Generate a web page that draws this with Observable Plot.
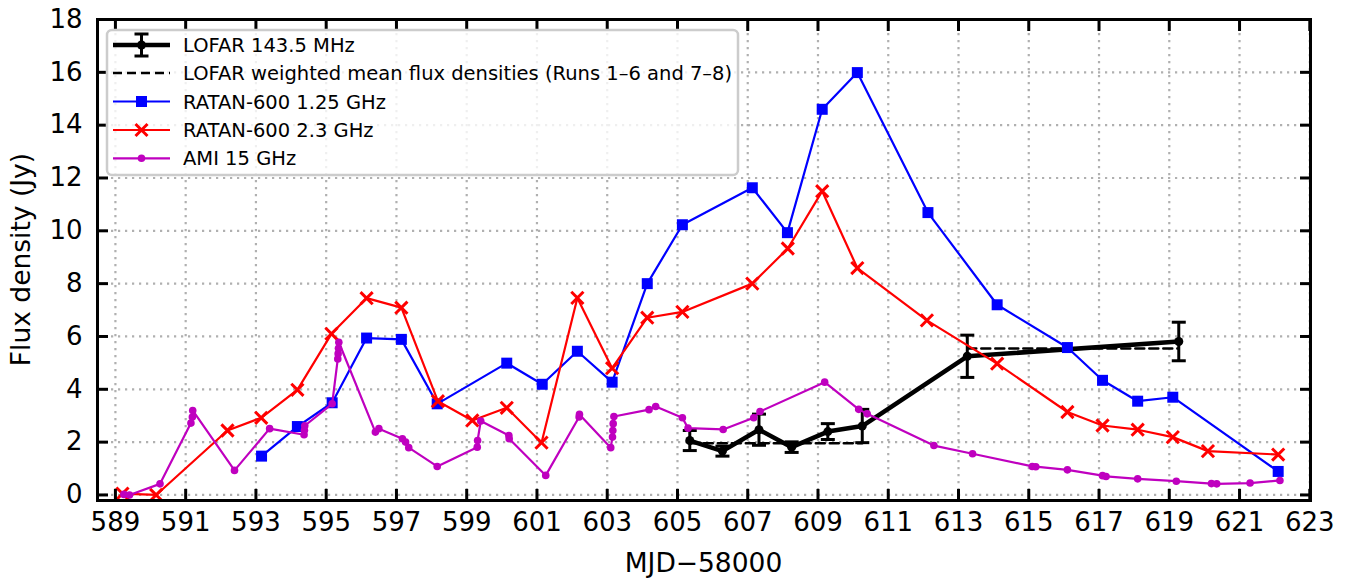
<!DOCTYPE html>
<html>
<head>
<meta charset="utf-8">
<script src="https://cdn.jsdelivr.net/npm/d3@7"></script>
<script src="https://cdn.jsdelivr.net/npm/@observablehq/plot@0.6"></script>
<style>
  body { margin: 0; background: #fff; }
  svg { display: block; }
</style>
</head>
<body>
<div id="chart"></div>
<script>
// ---------- DATA ----------
const lofarX   = [605.35, 606.28, 607.32, 608.25, 609.28, 610.26, 613.25, 619.27];
const lofarY   = [2.06, 1.66, 2.47, 1.81, 2.40, 2.61, 5.25, 5.81];
const lofarErr = [0.38, 0.19, 0.59, 0.20, 0.30, 0.63, 0.80, 0.73];

const meanRun  = ["Runs 1-6", "Runs 1-6", "Runs 7-8", "Runs 7-8"];
const meanX    = [605.35, 610.26, 613.25, 619.27];
const meanY    = [1.96, 1.96, 5.54, 5.54];

const ratan125X = [593.16, 594.18, 595.17, 596.15, 597.14, 598.16, 600.14, 601.15, 602.15, 603.14, 604.14, 605.14,
                   607.13, 608.13, 609.12, 610.12, 612.13, 614.10, 616.10, 617.10, 618.10, 619.10, 622.10];
const ratan125Y = [1.47, 2.59, 3.49, 5.94, 5.89, 3.45, 4.99, 4.19, 5.44, 4.27, 8.00, 10.23,
                   11.63, 9.93, 14.60, 15.99, 10.69, 7.20, 5.58, 4.34, 3.55, 3.70, 0.89];

const ratan23X = [589.20, 590.16, 592.19, 593.15, 594.18, 595.15, 596.15, 597.14, 598.18, 599.16, 600.14, 601.13,
                  602.15, 603.14, 604.14, 605.14, 607.13, 608.14, 609.12, 610.12, 612.10, 614.10, 616.10, 617.10,
                  618.10, 619.10, 620.10, 622.10];
const ratan23Y = [0.05, 0.00, 2.44, 2.92, 3.98, 6.10, 7.45, 7.09, 3.55, 2.82, 3.30, 1.98,
                  7.46, 4.80, 6.71, 6.93, 8.00, 9.33, 11.50, 8.59, 6.61, 4.97, 3.14, 2.63,
                  2.47, 2.19, 1.66, 1.53];

const amiX = [589.24, 589.40, 590.27, 591.15, 591.19, 591.20, 592.39, 593.39, 594.37, 594.38, 594.39, 595.17,
              595.33, 595.34, 595.35, 595.36, 596.40, 596.50, 597.17, 597.26, 597.35, 598.16, 599.30, 599.31,
              599.40, 600.20, 600.21, 601.25, 602.20, 602.21, 603.10, 603.15, 603.16, 603.17, 603.19, 604.19,
              604.38, 605.14, 605.30, 606.30, 607.17, 607.35, 609.19, 610.16, 610.40, 612.30, 613.40, 615.10,
              615.20, 616.10, 617.10, 617.20, 618.10, 619.20, 620.20, 620.35, 621.30, 622.15];
const amiY = [0.02, 0.00, 0.42, 2.72, 2.95, 3.20, 0.93, 2.51, 2.28, 2.45, 2.62, 3.45,
              5.15, 5.35, 5.55, 5.78, 2.38, 2.51, 2.13, 2.00, 1.79, 1.08, 1.81, 2.06,
              2.80, 2.25, 2.13, 0.74, 2.95, 3.05, 1.79, 2.19, 2.44, 2.70, 2.97, 3.23,
              3.35, 2.92, 2.53, 2.48, 2.92, 3.16, 4.27, 3.24, 3.07, 1.87, 1.56, 1.08,
              1.07, 0.95, 0.73, 0.70, 0.61, 0.52, 0.43, 0.42, 0.45, 0.55];

const xTicks = [589, 591, 593, 595, 597, 599, 601, 603, 605, 607, 609, 611, 613, 615, 617, 619, 621, 623];
const yTicks = [0, 2, 4, 6, 8, 10, 12, 14, 16, 18];

const legendLabels = [
  "LOFAR 143.5 MHz",
  "LOFAR weighted mean flux densities (Runs 1\u20136 and 7\u20138)",
  "RATAN-600 1.25 GHz",
  "RATAN-600 2.3 GHz",
  "AMI 15 GHz"
];
const xLabel = "MJD\u221258000";
const yLabel = "Flux density (Jy)";

// ---------- TABLES ----------
const lofar = lofarX.map((x, i) => ({x, y: lofarY[i], lo: lofarY[i] - lofarErr[i], hi: lofarY[i] + lofarErr[i]}));
const means = meanX.map((x, i) => ({x, y: meanY[i], run: meanRun[i]}));
const r125 = ratan125X.map((x, i) => ({x, y: ratan125Y[i]}));
const r23 = ratan23X.map((x, i) => ({x, y: ratan23Y[i]}));
const ami = amiX.map((x, i) => ({x, y: amiY[i]}));

const BLUE = "#0000ff", RED = "#ff0000", MAG = "#bf00bf";

// horizontal cap symbol for error bars
const capSymbol = {
  draw(context, size) {
    const w = Math.sqrt(size / Math.PI);
    context.moveTo(-w, 0);
    context.lineTo(w, 0);
  }
};

const gridStyle = {stroke: "#b0b0b0", strokeOpacity: 1, strokeWidth: 2.2, strokeDasharray: "2.2,4.8"};

const chart = Plot.plot({
  width: 1354,
  height: 578,
  marginLeft: 97,
  marginRight: 44,
  marginTop: 19,
  marginBottom: 78,
  style: {fontFamily: "'DejaVu Sans', sans-serif", fontSize: "26px", color: "black", background: "white", overflow: "visible"},
  x: {domain: [588.49, 623.02]},
  y: {domain: [-0.21, 18]},
  marks: [
    Plot.gridX(xTicks, gridStyle),
    Plot.gridY(yTicks, gridStyle),

    // LOFAR
    Plot.ruleX(lofar, {x: "x", y1: "lo", y2: "hi", stroke: "black", strokeWidth: 3}),
    Plot.dot(lofar, {x: "x", y: "hi", symbol: capSymbol, r: 7, stroke: "black", strokeWidth: 3}),
    Plot.dot(lofar, {x: "x", y: "lo", symbol: capSymbol, r: 7, stroke: "black", strokeWidth: 3}),
    Plot.line(lofar, {x: "x", y: "y", stroke: "black", strokeWidth: 4.5}),
    Plot.dot(lofar, {x: "x", y: "y", r: 4.5, fill: "black"}),

    // weighted means
    Plot.line(means, {x: "x", y: "y", z: "run", stroke: "black", strokeWidth: 2.5, strokeDasharray: "9,5"}),

    // RATAN 1.25
    Plot.line(r125, {x: "x", y: "y", stroke: BLUE, strokeWidth: 2.2}),
    Plot.dot(r125, {x: "x", y: "y", symbol: "square", r: 6.2, fill: BLUE}),

    // RATAN 2.3
    Plot.line(r23, {x: "x", y: "y", stroke: RED, strokeWidth: 2.2}),
    Plot.dot(r23, {x: "x", y: "y", symbol: "times", r: 5.6, stroke: RED, strokeWidth: 3}),

    // AMI
    Plot.line(ami, {x: "x", y: "y", stroke: MAG, strokeWidth: 2.2}),
    Plot.dot(ami, {x: "x", y: "y", r: 3.8, fill: MAG}),

    // axes with inward ticks on all sides
    Plot.axisX(xTicks, {anchor: "bottom", tickSize: -11, tickPadding: 23, strokeWidth: 3, label: null, tickFormat: d => String(d)}),
    Plot.axisX(xTicks, {anchor: "top", tickSize: -11, tickPadding: 0, strokeWidth: 3, label: null, tickFormat: () => ""}),
    Plot.axisY(yTicks, {anchor: "left", tickSize: -11, tickPadding: 26, strokeWidth: 3, label: null, tickFormat: d => String(d)}),
    Plot.axisY(yTicks, {anchor: "right", tickSize: -11, tickPadding: 0, strokeWidth: 3, label: null, tickFormat: () => ""}),
    Plot.frame({stroke: "black", strokeWidth: 3})
  ]
});

document.getElementById("chart").appendChild(chart);

// ---------- axis titles ----------
const svg = d3.select(chart);
svg.append("text")
  .attr("x", 703.5).attr("y", 571.5)
  .attr("text-anchor", "middle")
  .attr("font-family", "'DejaVu Sans', sans-serif")
  .attr("font-size", 26.5)
  .attr("fill", "black")
  .text(xLabel);
svg.append("text")
  .attr("transform", "translate(30,259.5) rotate(-90)")
  .attr("text-anchor", "middle")
  .attr("font-family", "'DejaVu Sans', sans-serif")
  .attr("font-size", 26.5)
  .attr("fill", "black")
  .text(yLabel);

// ---------- legend ----------
const lg = svg.append("g")
  .attr("font-family", "'DejaVu Sans', sans-serif")
  .attr("font-size", 19.5)
  .attr("text-anchor", "start");
lg.append("rect")
  .attr("x", 107).attr("y", 30).attr("width", 631).attr("height", 145).attr("rx", 5)
  .attr("fill", "white").attr("fill-opacity", 0.8)
  .attr("stroke", "#cccccc").attr("stroke-width", 2.5);

const rowY = [45, 73, 101.5, 130, 158.3];
const lx1 = 113, lx2 = 170, lxm = 141.5, tx = 183;
legendLabels.forEach((lab, i) => {
  const y = rowY[i];
  lg.append("text").attr("x", tx).attr("y", y).attr("dy", "0.36em")
    .attr("text-anchor", "start").attr("fill", "black").text(lab);
});
// row 0: LOFAR errorbar
{
  const y = rowY[0];
  lg.append("line").attr("x1", lx1).attr("x2", lx2).attr("y1", y).attr("y2", y).attr("stroke", "black").attr("stroke-width", 4.5);
  lg.append("line").attr("x1", lxm).attr("x2", lxm).attr("y1", y - 11).attr("y2", y + 11).attr("stroke", "black").attr("stroke-width", 3);
  lg.append("line").attr("x1", lxm - 7).attr("x2", lxm + 7).attr("y1", y - 11).attr("y2", y - 11).attr("stroke", "black").attr("stroke-width", 3);
  lg.append("line").attr("x1", lxm - 7).attr("x2", lxm + 7).attr("y1", y + 11).attr("y2", y + 11).attr("stroke", "black").attr("stroke-width", 3);
  lg.append("circle").attr("cx", lxm).attr("cy", y).attr("r", 4.5).attr("fill", "black");
}
// row 1: dashed
lg.append("line").attr("x1", lx1).attr("x2", lx2).attr("y1", rowY[1]).attr("y2", rowY[1])
  .attr("stroke", "black").attr("stroke-width", 2.5).attr("stroke-dasharray", "9,5");
// row 2: blue squares
lg.append("line").attr("x1", lx1).attr("x2", lx2).attr("y1", rowY[2]).attr("y2", rowY[2]).attr("stroke", BLUE).attr("stroke-width", 2.2);
lg.append("rect").attr("x", lxm - 5.5).attr("y", rowY[2] - 5.5).attr("width", 11).attr("height", 11).attr("fill", BLUE);
// row 3: red x
lg.append("line").attr("x1", lx1).attr("x2", lx2).attr("y1", rowY[3]).attr("y2", rowY[3]).attr("stroke", RED).attr("stroke-width", 2.2);
lg.append("path").attr("d", `M${lxm-6},${rowY[3]-6}L${lxm+6},${rowY[3]+6}M${lxm-6},${rowY[3]+6}L${lxm+6},${rowY[3]-6}`)
  .attr("stroke", RED).attr("stroke-width", 3).attr("fill", "none");
// row 4: magenta dot
lg.append("line").attr("x1", lx1).attr("x2", lx2).attr("y1", rowY[4]).attr("y2", rowY[4]).attr("stroke", MAG).attr("stroke-width", 2.2);
lg.append("circle").attr("cx", lxm).attr("cy", rowY[4]).attr("r", 3.8).attr("fill", MAG);
</script>
</body>
</html>
